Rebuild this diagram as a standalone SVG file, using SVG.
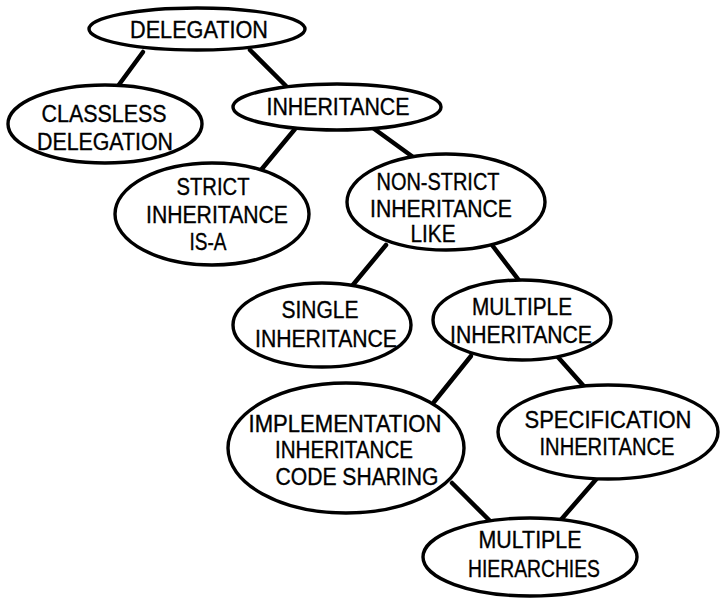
<svg xmlns="http://www.w3.org/2000/svg" width="723" height="599" viewBox="0 0 723 599">
  <style>
    .node ellipse { fill: #ffffff; stroke: #000000; stroke-width: 3.4; }
    .node text { font-family: "Liberation Sans", Arial, sans-serif; font-size: 23px; fill: #000000; stroke: #000000; stroke-width: 0.35; text-anchor: middle; }
    #connectors line { stroke: #000000; stroke-width: 4.5; stroke-linecap: round; }
  </style>
  <rect width="723" height="599" fill="#ffffff"/>

  <g id="connectors">
    <line x1="143" y1="52" x2="118" y2="86"/>
    <line x1="250" y1="50" x2="286" y2="86"/>
    <line x1="295" y1="129" x2="261" y2="170"/>
    <line x1="373" y1="128" x2="413" y2="157"/>
    <line x1="386" y1="245" x2="352" y2="286"/>
    <line x1="492" y1="245" x2="521" y2="283"/>
    <line x1="471" y1="356" x2="434" y2="402"/>
    <line x1="557" y1="356" x2="589" y2="392"/>
    <line x1="452" y1="483" x2="493" y2="524"/>
    <line x1="599" y1="476" x2="559" y2="522"/>
  </g>

  <g id="delegation" class="node">
    <ellipse cx="197" cy="29" rx="108" ry="21"/>
    <text x="199" y="38" textLength="138" lengthAdjust="spacingAndGlyphs">DELEGATION</text>
  </g>

  <g id="classless-delegation" class="node">
    <ellipse cx="105" cy="124" rx="97" ry="39"/>
    <text x="104" y="122" textLength="125" lengthAdjust="spacingAndGlyphs">CLASSLESS</text>
    <text x="105" y="150" textLength="136" lengthAdjust="spacingAndGlyphs">DELEGATION</text>
  </g>

  <g id="inheritance" class="node">
    <ellipse cx="337" cy="107" rx="104" ry="23"/>
    <text x="338" y="115" textLength="143" lengthAdjust="spacingAndGlyphs">INHERITANCE</text>
  </g>

  <g id="strict-inheritance" class="node">
    <ellipse cx="212" cy="214" rx="97" ry="51"/>
    <text x="213" y="195" textLength="73" lengthAdjust="spacingAndGlyphs">STRICT</text>
    <text x="217" y="223" textLength="142" lengthAdjust="spacingAndGlyphs">INHERITANCE</text>
    <text x="208" y="250" textLength="37" lengthAdjust="spacingAndGlyphs">IS-A</text>
  </g>

  <g id="non-strict-inheritance" class="node">
    <ellipse cx="446" cy="202" rx="99" ry="48"/>
    <text x="438" y="190" textLength="123" lengthAdjust="spacingAndGlyphs">NON-STRICT</text>
    <text x="441" y="217" textLength="142" lengthAdjust="spacingAndGlyphs">INHERITANCE</text>
    <text x="433" y="242" textLength="45" lengthAdjust="spacingAndGlyphs">LIKE</text>
  </g>

  <g id="single-inheritance" class="node">
    <ellipse cx="322" cy="325" rx="89" ry="42"/>
    <text x="320" y="318" textLength="77" lengthAdjust="spacingAndGlyphs">SINGLE</text>
    <text x="326" y="347" textLength="142" lengthAdjust="spacingAndGlyphs">INHERITANCE</text>
  </g>

  <g id="multiple-inheritance" class="node">
    <ellipse cx="522" cy="320" rx="89" ry="40"/>
    <text x="522" y="315" textLength="100" lengthAdjust="spacingAndGlyphs">MULTIPLE</text>
    <text x="521" y="343" textLength="142" lengthAdjust="spacingAndGlyphs">INHERITANCE</text>
  </g>

  <g id="implementation-inheritance" class="node">
    <ellipse cx="346" cy="448" rx="118" ry="65"/>
    <text x="345" y="432" textLength="193" lengthAdjust="spacingAndGlyphs">IMPLEMENTATION</text>
    <text x="344" y="458" textLength="138" lengthAdjust="spacingAndGlyphs">INHERITANCE</text>
    <text x="357" y="485" textLength="163" lengthAdjust="spacingAndGlyphs">CODE SHARING</text>
  </g>

  <g id="specification-inheritance" class="node">
    <ellipse cx="608" cy="432" rx="110" ry="47"/>
    <text x="608" y="428" textLength="167" lengthAdjust="spacingAndGlyphs">SPECIFICATION</text>
    <text x="607" y="455" textLength="135" lengthAdjust="spacingAndGlyphs">INHERITANCE</text>
  </g>

  <g id="multiple-hierarchies" class="node">
    <ellipse cx="530" cy="557" rx="107" ry="39"/>
    <text x="530" y="548" textLength="103" lengthAdjust="spacingAndGlyphs">MULTIPLE</text>
    <text x="534" y="577" textLength="132" lengthAdjust="spacingAndGlyphs">HIERARCHIES</text>
  </g>
</svg>
